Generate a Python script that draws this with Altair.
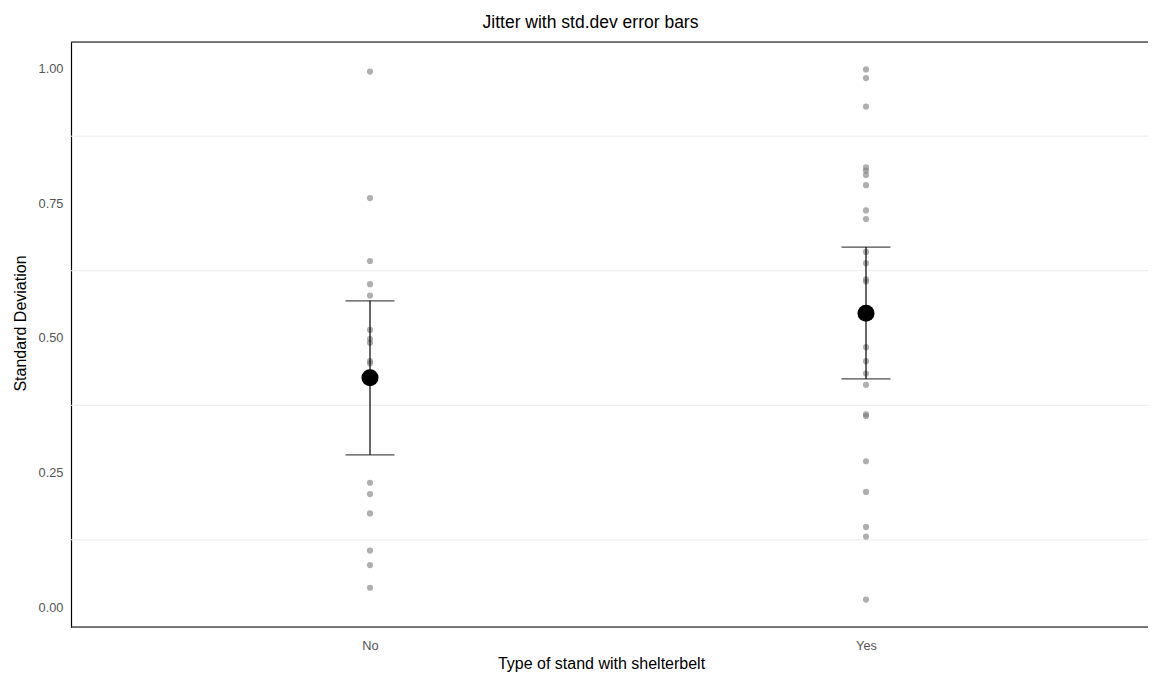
import altair as alt
import pandas as pd

# ---- data ----
groups = ["No", "Yes"]
no_values = [0.995, 0.760, 0.643, 0.600, 0.579, 0.515, 0.498, 0.491, 0.457,
             0.453, 0.231, 0.210, 0.174, 0.105, 0.078, 0.036]
yes_values = [0.999, 0.983, 0.930, 0.817, 0.811, 0.803, 0.784, 0.737, 0.721,
              0.660, 0.639, 0.609, 0.605, 0.483, 0.457, 0.434, 0.413, 0.358,
              0.355, 0.271, 0.214, 0.149, 0.131, 0.014]
mean_values = [0.426, 0.546]
lower_values = [0.283, 0.424]
upper_values = [0.569, 0.669]
y_ticks = [0.0, 0.25, 0.5, 0.75, 1.0]
minor_breaks = [0.125, 0.375, 0.625, 0.875]

points = pd.DataFrame({
    "group": ["No"] * len(no_values) + ["Yes"] * len(yes_values),
    "value": no_values + yes_values,
})
summary = pd.DataFrame({"group": groups, "mean": mean_values,
                        "lower": lower_values, "upper": upper_values})
grid = pd.DataFrame({"y": minor_breaks})
frame = pd.DataFrame({"k": [0]})

FONT = "Liberation Sans"
W, H = 1077, 585

xscale = alt.Scale(type="point", domain=groups, range=[299, 795], padding=0)
yscale = alt.Scale(domain=[-0.037, 1.05], nice=False, zero=False)

x_axis = alt.Axis(title="Type of stand with shelterbelt", labelAngle=0,
                  ticks=False, tickSize=0, grid=False, domain=False,
                  labelPadding=12, labelFontSize=12.8, labelColor="#555555",
                  labelFont=FONT, titleFont=FONT, titleFontSize=16,
                  titleColor="black", titleFontWeight="normal", titlePadding=4,
                  titleX=530, titleAlign="center")
y_axis = alt.Axis(title="Standard Deviation", values=y_ticks, format=".2f",
                  ticks=False, tickSize=0, grid=False,
                  domainColor="black", domainWidth=1.2,
                  labelPadding=8, labelFontSize=12.8, labelColor="#555555",
                  labelFont=FONT, titleFont=FONT, titleFontSize=16,
                  titleColor="black", titleFontWeight="normal", titlePadding=10,
                  titleY=281, titleAlign="center")

X = alt.X("group:N", scale=xscale, axis=x_axis)

gridlines = alt.Chart(grid).mark_rule(color="#ebebeb", strokeWidth=1).encode(
    y=alt.Y("y:Q", scale=yscale, axis=y_axis)
)

top_border = alt.Chart(frame).mark_rule(color="black", strokeWidth=1.2).encode(
    y=alt.value(0)
)
bottom_border = alt.Chart(frame).mark_rule(color="black", strokeWidth=1.2).encode(
    y=alt.value(H)
)

jitter = alt.Chart(points).mark_circle(color="#7a7a7a", opacity=0.6, size=38).encode(
    x=X,
    y=alt.Y("value:Q", scale=yscale, axis=y_axis),
)

err_rule = alt.Chart(summary).mark_rule(color="black", strokeWidth=1.2).encode(
    x=X,
    y=alt.Y("lower:Q", scale=yscale, axis=y_axis),
    y2="upper:Q",
)
cap_low = alt.Chart(summary).mark_tick(color="black", thickness=1.2, size=49).encode(
    x=X, y=alt.Y("lower:Q", scale=yscale, axis=y_axis)
)
cap_high = alt.Chart(summary).mark_tick(color="black", thickness=1.2, size=49).encode(
    x=X, y=alt.Y("upper:Q", scale=yscale, axis=y_axis)
)
means = alt.Chart(summary).mark_point(filled=True, color="black", opacity=1, size=290).encode(
    x=X, y=alt.Y("mean:Q", scale=yscale, axis=y_axis)
)

chart = alt.layer(
    gridlines, jitter, err_rule, cap_low, cap_high, means, top_border, bottom_border
).properties(
    width=W,
    height=H,
    title=alt.TitleParams("Jitter with std.dev error bars", font=FONT,
                          fontSize=17.5, fontWeight="normal", color="black",
                          anchor="middle", baseline="alphabetic", offset=15,
                          dx=-19, dy=19),
    autosize=alt.AutoSizeParams(type="none"),
    padding={"left": 63, "top": 34, "right": 0, "bottom": 46},
).configure_view(stroke=None).configure(font=FONT, background="white")

chart.save("out.html", embed_options={"renderer": "svg", "actions": False})
